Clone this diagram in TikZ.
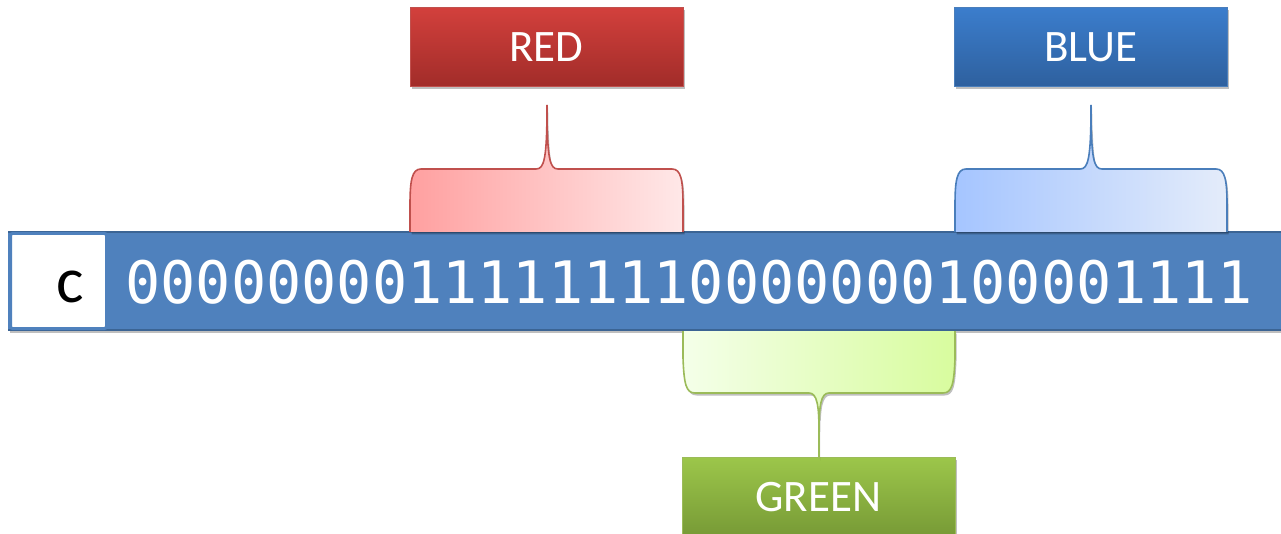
\documentclass[tikz,border=0pt]{standalone}
\usepackage{fontspec}
\setmainfont{Carlito}
\newfontfamily\digitfont{DejaVu Sans Mono}
\usetikzlibrary{shadows}

\definecolor{barblue}{HTML}{4F81BD}
\definecolor{baredge}{HTML}{3B6494}
\definecolor{redtop}{HTML}{D2403C}
\definecolor{redbot}{HTML}{A12C29}
\definecolor{redline}{HTML}{C0504D}
\definecolor{bluetop}{HTML}{3B7DCC}
\definecolor{bluebot}{HTML}{2E609E}
\definecolor{blueline}{HTML}{4A7EBB}
\definecolor{greentop}{HTML}{9CC64A}
\definecolor{greenbot}{HTML}{779A36}
\definecolor{greenline}{HTML}{9BBB59}
\definecolor{redL}{HTML}{FFA0A0}
\definecolor{redR}{HTML}{FFE8E8}
\definecolor{blueL}{HTML}{A5C5FF}
\definecolor{blueR}{HTML}{E4ECFA}
\definecolor{greenL}{HTML}{F4FFE9}
\definecolor{greenR}{HTML}{D8FC9E}

\tikzset{
  softshadow/.style={drop shadow={shadow xshift=1.5pt, shadow yshift=-2.5pt, opacity=0.25, fill=black}},
  labelbox/.style={rectangle, minimum width=273pt, minimum height=79pt, inner sep=0pt,
    text=white, font=\fontsize{45}{45}\selectfont, line width=1pt, softshadow},
  bracefill/.style={line width=1.6pt, softshadow},
}

\begin{document}
\begin{tikzpicture}[x=1pt,y=-1pt]
\useasboundingbox (0,0) rectangle (1281,534);
\clip (0,0) rectangle (1281,534);

% the 32-bit register bar
\fill[barblue, softshadow] (8,231) rectangle (1300,330);
\draw[baredge, line width=2.5pt] (8,232) -- (1300,232);
\draw[baredge, line width=2.5pt] (8,330) -- (1300,330);
\node[draw=barblue, fill=white, line width=3pt, rounded corners=2pt,
      minimum width=96pt, minimum height=95pt, inner sep=0pt] (var) at (58.5,281) {};
\node[anchor=base, inner sep=0pt, font=\fontsize{65}{65}\selectfont] (varname) at (70,303) {c};
\node[inner sep=0pt, text=white, font=\digitfont\fontsize{58.5}{58.5}\selectfont]
  (bits) at (689,282.5) {00000000111111110000000100001111};

% channel boxes
\node[labelbox, draw=redline, top color=redtop, bottom color=redbot] (red) at (546.5,47.5) {RED};
\node[labelbox, draw=blueline, top color=bluetop, bottom color=bluebot] (blue) at (1091,47.5) {BLUE};
\node[labelbox, draw=greenline, top color=greentop, bottom color=greenbot] (green) at (818.5,497) {GREEN};

% brace over the red byte
\filldraw[bracefill, draw=redline, left color=redL, right color=redR]
  (410,232) -- (410,205) .. controls (410,180) and (412,169) .. (421,169)
  -- (536,169) .. controls (544,169) and (547,160) .. (547,105)
  .. controls (547,160) and (550,169) .. (558,169)
  -- (672,169) .. controls (681,169) and (683,180) .. (683,205) -- (683,232);

% brace over the blue byte
\filldraw[bracefill, draw=blueline, left color=blueL, right color=blueR]
  (955,232) -- (955,205) .. controls (955,180) and (957,169) .. (966,169)
  -- (1080,169) .. controls (1088,169) and (1091,160) .. (1091,105)
  .. controls (1091,160) and (1094,169) .. (1102,169)
  -- (1216,169) .. controls (1225,169) and (1227,180) .. (1227,205) -- (1227,232);

% brace under the green byte
\filldraw[bracefill, draw=greenline, left color=greenL, right color=greenR]
  (683,331) -- (683,358) .. controls (684,384) and (686,393) .. (695,393)
  -- (809,393) .. controls (817,393) and (819,405) .. (819,432) -- (819,458)
  -- (819,432) .. controls (819,405) and (821,393) .. (829,393)
  -- (943,393) .. controls (952,393) and (954,384) .. (955,358) -- (955,331);
\end{tikzpicture}
\end{document}
